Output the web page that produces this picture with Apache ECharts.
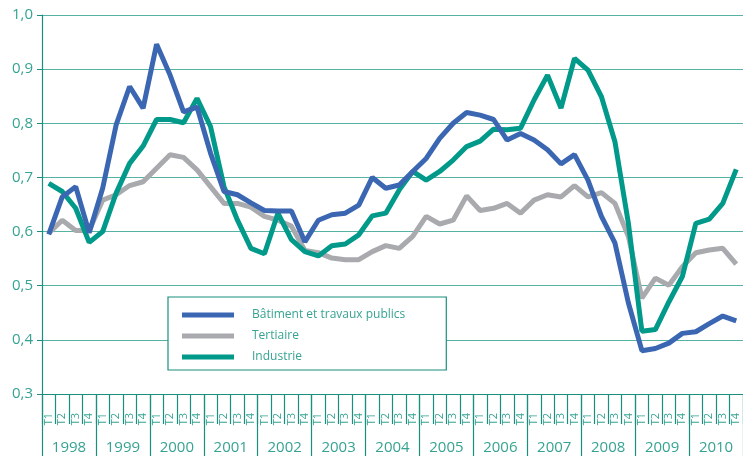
<!DOCTYPE html>
<html>
<head>
<meta charset="utf-8">
<script src="https://cdn.jsdelivr.net/npm/echarts@6/dist/echarts.min.js"></script>
<style>
  html, body { margin: 0; padding: 0; background: #fff; }
  #chart { width: 743px; height: 456px; }
</style>
</head>
<body>
<div id="chart"></div>
<script>
// quarters 1998 T1 .. 2010 T4
const years = ['1998','1999','2000','2001','2002','2003','2004','2005','2006','2007','2008','2009','2010'];
const quarterNames = ['T1','T2','T3','T4'];

const batiment = [
  0.595, 0.664, 0.683, 0.598,
  0.680, 0.797, 0.868, 0.828,
  0.946, 0.889, 0.821, 0.830,
  0.745, 0.674, 0.668, 0.653,
  0.639, 0.638, 0.638, 0.581,
  0.621, 0.631, 0.634, 0.649,
  0.700, 0.680, 0.686, 0.711,
  0.735, 0.772, 0.800, 0.820,
  0.815, 0.807, 0.769, 0.781,
  0.769, 0.751, 0.725, 0.742,
  0.695, 0.628, 0.579, 0.468,
  0.380, 0.384, 0.394, 0.412,
  0.415, 0.430, 0.444, 0.435
];
const tertiaire = [
  0.597, 0.621, 0.602, 0.602,
  0.658, 0.668, 0.685, 0.692,
  0.717, 0.742, 0.737, 0.714,
  0.683, 0.652, 0.652, 0.645,
  0.628, 0.621, 0.610, 0.565,
  0.561, 0.551, 0.548, 0.548,
  0.563, 0.574, 0.569, 0.591,
  0.628, 0.614, 0.621, 0.666,
  0.639, 0.643, 0.652, 0.634,
  0.658, 0.668, 0.664, 0.685,
  0.664, 0.672, 0.652, 0.591,
  0.477, 0.514, 0.501, 0.535,
  0.561, 0.566, 0.569, 0.540
];
const industrie = [
  0.689, 0.674, 0.643, 0.580,
  0.600, 0.671, 0.726, 0.758,
  0.807, 0.807, 0.801, 0.846,
  0.794, 0.683, 0.621, 0.569,
  0.559, 0.634, 0.585, 0.563,
  0.555, 0.574, 0.577, 0.594,
  0.629, 0.634, 0.677, 0.711,
  0.695, 0.711, 0.732, 0.757,
  0.767, 0.789, 0.788, 0.791,
  0.843, 0.889, 0.828, 0.920,
  0.898, 0.849, 0.766, 0.615,
  0.416, 0.419, 0.470, 0.517,
  0.615, 0.623, 0.652, 0.715
];

const quarters = [];
years.forEach(y => quarterNames.forEach(q => quarters.push(q)));

const teal = '#1a8f7f';
const tealText = '#36a392';
const gridTeal = '#55b2a4';
const font = 'Open Sans';

const chart = echarts.init(document.getElementById('chart'));
chart.setOption({
  animation: false,
  grid: { left: 42, top: 15, width: 711, bottom: 62 },
  legend: {
    orient: 'vertical',
    left: 168,
    top: 297,
    padding: [12, 41, 7, 14],
    itemGap: 9,
    itemWidth: 52,
    itemHeight: 5,
    icon: 'rect',
    backgroundColor: '#fff',
    borderColor: teal,
    borderWidth: 1.2,
    borderRadius: 0,
    textStyle: { color: tealText, fontSize: 12, fontFamily: font, padding: [0, 0, 0, 13] },
    data: ['Bâtiment et travaux publics', 'Tertiaire', 'Industrie']
  },
  xAxis: [
    {
      type: 'category',
      data: quarters,
      boundaryGap: true,
      axisLine: { show: true, lineStyle: { color: teal, width: 1.2 } },
      axisTick: { show: true, interval: 0, length: 30, lineStyle: { color: teal, width: 1.2 } },
      axisLabel: {
        interval: 0, rotate: 90, margin: 19,
        color: tealText, fontSize: 11, fontFamily: font
      },
      splitLine: { show: false }
    },
    {
      type: 'category',
      data: years,
      position: 'bottom',
      boundaryGap: true,
      axisLine: { show: false },
      axisTick: { show: true, interval: 0, length: 70, lineStyle: { color: teal, width: 1.2 } },
      axisLabel: {
        interval: 0, margin: 46,
        color: tealText, fontSize: 15, fontFamily: font
      },
      splitLine: { show: false }
    }
  ],
  yAxis: {
    type: 'value',
    min: 0.3,
    max: 1.0,
    interval: 0.1,
    axisLine: { show: true, lineStyle: { color: teal, width: 1.2 } },
    axisTick: { show: true, length: 5, lineStyle: { color: teal } },
    axisLabel: {
      margin: 9,
      color: tealText, fontSize: 15, fontFamily: font,
      formatter: v => v.toFixed(1).replace('.', ',')
    },
    splitLine: { lineStyle: { color: gridTeal, width: 1.2 } }
  },
  series: [
    {
      name: 'Bâtiment et travaux publics',
      type: 'line',
      data: batiment,
      symbol: 'none',
      color: '#3b67b2',
      lineStyle: { width: 5, color: '#3b67b2' },
      z: 3
    },
    {
      name: 'Tertiaire',
      type: 'line',
      data: tertiaire,
      symbol: 'none',
      color: '#a9aaae',
      lineStyle: { width: 5, color: '#a9aaae' },
      z: 1
    },
    {
      name: 'Industrie',
      type: 'line',
      data: industrie,
      symbol: 'none',
      color: '#00998a',
      lineStyle: { width: 5, color: '#00998a' },
      z: 2
    }
  ]
});
</script>
</body>
</html>
